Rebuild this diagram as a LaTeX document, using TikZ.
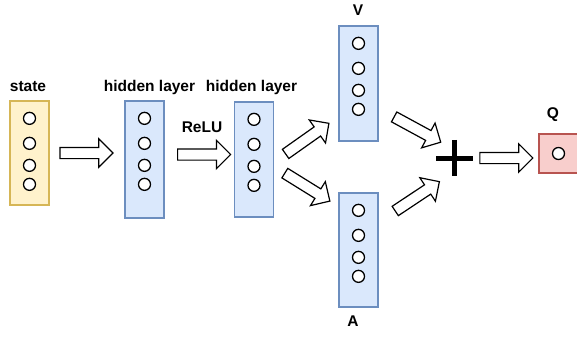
\documentclass[tikz,border=0pt]{standalone}
\usepackage{fontspec}
\setmainfont{Liberation Sans}
\usetikzlibrary{shapes.arrows, positioning}

\definecolor{statefill}{HTML}{FFF2CC}
\definecolor{stateline}{HTML}{D6B656}
\definecolor{hidfill}{HTML}{DAE8FC}
\definecolor{hidline}{HTML}{6C8EBF}
\definecolor{qfill}{HTML}{F8CECC}
\definecolor{qline}{HTML}{B85450}

\begin{document}
\begin{tikzpicture}[x=1pt, y=-1pt,
    layer/.style={draw, line width=1.3pt, minimum width=39pt, inner sep=0pt},
    neuron/.style={circle, draw, fill=white, line width=1.3pt, minimum size=12pt, inner sep=0pt},
    lbl/.style={font=\bfseries\fontsize{15.5}{18}\selectfont, anchor=base, inner sep=0pt},
    flexarrow/.style={single arrow, draw, fill=white, line width=1.2pt, minimum height=53pt,
        inner sep=5pt, single arrow head extend=8.5pt, sloped}]

        \useasboundingbox (0,0) rectangle (577,337);

        \node[layer, fill=statefill, draw=stateline, minimum height=104pt] (s) at (29.5,153) {};
        \node[layer, fill=hidfill, draw=hidline, minimum height=117pt] (h1) at (144.5,159.5) {};
        \node[layer, fill=hidfill, draw=hidline, minimum height=115pt] (h2) at (254,159.5) {};
        \node[layer, fill=hidfill, draw=hidline, minimum height=115pt] (v) at (358.5,83.5) {};
        \node[layer, fill=hidfill, draw=hidline, minimum height=114pt] (a) at (358.5,250) {};
        \node[layer, fill=qfill, draw=qline, minimum height=39pt] (q) at (558.5,153.5) {};

        \foreach \b in {s,h1,h2,v,a}
            \foreach \i/\dy in {1/18,2/43,3/65,4/84}
                \node[neuron] (\b\i) at ([yshift=-\dy pt]\b.north) {};
        \node[neuron] (q1) at (q) {};

        \node[lbl] (slbl) at (28,91) {state};
        \node[lbl] (h1lbl) at (149.5,91) {hidden layer};
        \node[lbl] (h2lbl) at (251.5,91) {hidden layer};
        \node[lbl] (relu) at (202,132) {ReLU};
        \node[lbl] (vlbl) at (358,16) {V};
        \node[lbl] (albl) at (353,326) {A};
        \node[lbl] (qlbl) at (553,118) {Q};

        \node[minimum size=36pt, inner sep=0pt] (plus) at (454.5,158) {};
        \draw[line width=5pt] (plus.north) -- (plus.south) (plus.west) -- (plus.east);

        \path (s.east) -- node[flexarrow, pos=0.455] {} (s.east -| h1.west);
        \path ([yshift=5pt]h1.east) -- node[flexarrow, pos=0.53] {} ([yshift=5pt]h2.west);
        \path ([yshift=-2.5pt]h2.east) -- node[flexarrow, pos=0.48] {} ([yshift=25pt]v.south west);
        \path ([yshift=-7pt]h2.east) -- node[flexarrow, pos=0.48] {} ([yshift=-14pt]a.north west);
        \path ([yshift=-25pt]v.east) -- node[flexarrow, pos=0.63] {} (plus.north west);
        \path ([yshift=28pt]a.east) -- node[flexarrow, pos=0.63] {} ([yshift=-7.5pt]plus.south west);
        \path (plus.east) -- node[flexarrow, pos=0.47] {} (plus.east -| q.west);
\end{tikzpicture}
\end{document}
